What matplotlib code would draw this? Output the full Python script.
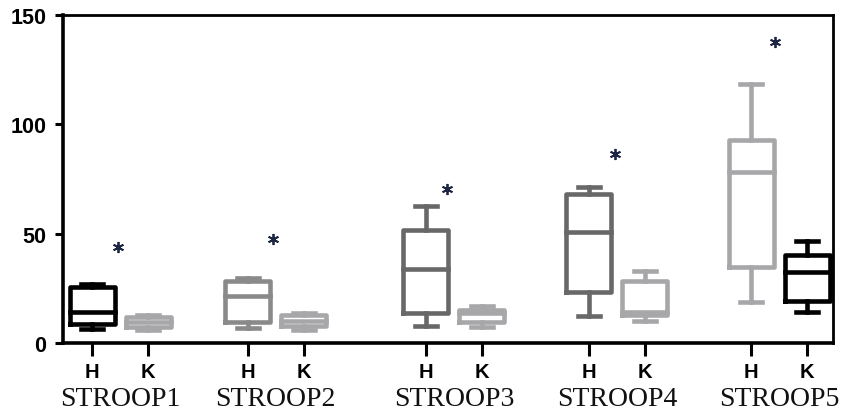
import matplotlib.pyplot as plt
import matplotlib.transforms as mtransforms

groups = ["STROOP1", "STROOP2", "STROOP3", "STROOP4", "STROOP5"]
sub_labels = ["H", "K"]

# five-number summaries
h_min = [6.4, 6.9, 7.9, 12.5, 18.6]
h_q1 = [8.7, 9.6, 13.5, 23.1, 34.8]
h_med = [14.2, 21.4, 33.8, 50.9, 78.0]
h_q3 = [25.4, 28.3, 51.7, 68.0, 92.8]
h_max = [27.0, 29.5, 62.8, 71.2, 118.4]

k_min = [5.9, 5.9, 7.3, 10.2, 14.0]
k_q1 = [7.1, 8.0, 9.6, 12.6, 19.2]
k_med = [9.6, 10.2, 13.6, 14.3, 32.3]
k_q3 = [11.7, 12.8, 15.1, 28.3, 40.1]
k_max = [12.8, 13.5, 16.9, 33.0, 46.8]

star_y = [44.0, 47.5, 70.5, 86.5, 137.5]

h_colors = ["#000000", "#8a8a8a", "#686868", "#686868", "#a7a7aa"]
k_colors = ["#a7a7aa", "#a7a7aa", "#a7a7aa", "#a7a7aa", "#000000"]

h_pos = [0.52, 3.30, 6.48, 9.39, 12.29]
k_pos = [1.52, 4.30, 7.48, 10.39, 13.29]
star_x = [0.98, 3.75, 6.85, 9.85, 12.72]

fig = plt.figure(figsize=(8.53, 4.14), dpi=100)
ax = fig.add_axes([63 / 853, 1 - 344 / 414, 770 / 853, 328 / 414])


def stats(lo, q1, med, q3, hi):
    return {"whislo": lo, "q1": q1, "med": med, "q3": q3, "whishi": hi, "fliers": []}


for i in range(len(groups)):
    for pos, st, col in [
        (h_pos[i], stats(h_min[i], h_q1[i], h_med[i], h_q3[i], h_max[i]), h_colors[i]),
        (k_pos[i], stats(k_min[i], k_q1[i], k_med[i], k_q3[i], k_max[i]), k_colors[i]),
    ]:
        lp = dict(color=col, linewidth=3.3, solid_capstyle="projecting")
        ax.bxp([st], positions=[pos], widths=0.8, showfliers=False,
               boxprops=lp, whiskerprops=lp, capprops=lp, medianprops=lp,
               capwidths=0.4, manage_ticks=False)

ax.plot(star_x, star_y, linestyle="none", marker=(6, 2, 0), markersize=8,
        markeredgewidth=1.3, color="#1c2541")

ax.set_xlim(0, 13.75)
ax.set_ylim(0, 150)
ax.set_yticks([0, 50, 100, 150])
ax.set_yticklabels(["0", "50", "100", "150"], fontfamily="Liberation Sans",
                   fontweight="bold", fontsize=15.5)

xt = []
xl = []
for i in range(len(groups)):
    xt += [h_pos[i], k_pos[i]]
    xl += sub_labels
ax.set_xticks(xt)
ax.set_xticklabels(xl, fontfamily="Liberation Sans", fontweight="bold", fontsize=14.5)

for s in ax.spines.values():
    s.set_linewidth(2.0)
ax.spines["left"].set_linewidth(2.6)
ax.spines["bottom"].set_linewidth(2.6)
ax.tick_params(axis="y", direction="out", length=6, width=2.2, pad=6)
ax.tick_params(axis="x", direction="out", length=9, width=2.2, pad=5)

trans = mtransforms.blended_transform_factory(ax.transData, fig.transFigure)
for i, g in enumerate(groups):
    cx = (h_pos[i] + k_pos[i]) / 2
    ax.text(cx, 8 / 414, g, transform=trans, ha="center", va="baseline",
            fontfamily="Liberation Serif", fontsize=20, color="#111111")

fig.savefig("out.png", dpi=100)
